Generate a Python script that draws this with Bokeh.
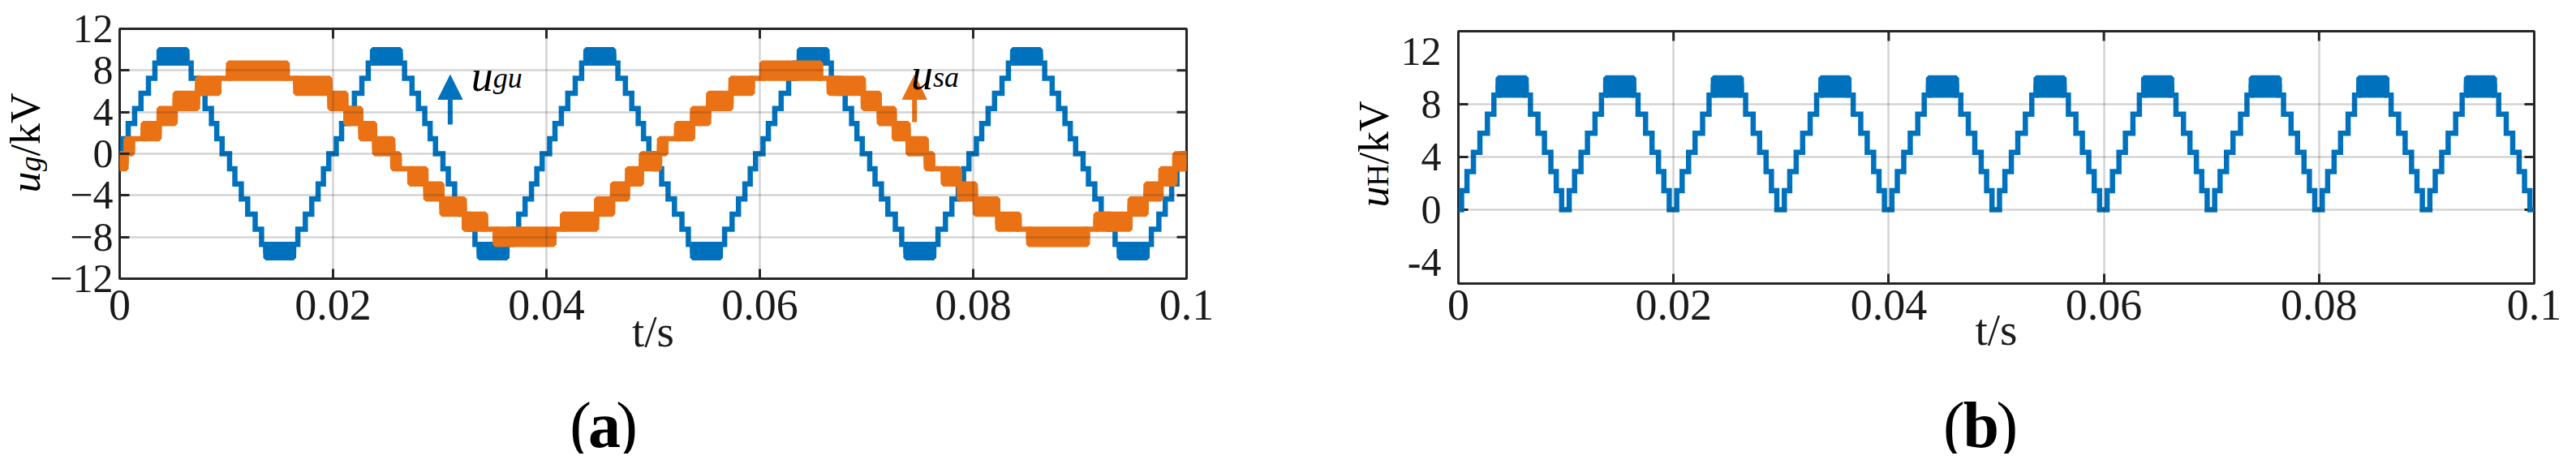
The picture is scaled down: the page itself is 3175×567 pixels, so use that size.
import math
from bokeh.plotting import figure
from bokeh.models import (FixedTicker, Label, Arrow, NormalHead,
                          Range1d, ColumnDataSource, Spacer)
from bokeh.layouts import row, column
from bokeh.embed import file_html
from bokeh.resources import INLINE

# ---------------- data ----------------
X_RANGE = (0.0, 0.1)
X_TICKS = [0, 0.02, 0.04, 0.06, 0.08, 0.1]
X_TICK_LABELS = ["0", "0.02", "0.04", "0.06", "0.08", "0.1"]
YA_RANGE = (-12.0, 12.0)
YA_TICKS = [-12, -8, -4, 0, 4, 8, 12]
YA_TICK_LABELS = ["−12", "−8", "−4", "0", "4", "8", "12"]
YB_RANGE = (-5.6, 13.54)
YB_TICKS = [0, 4, 8]
YB_LABEL_TICKS = [-4, 0, 4, 8, 12]
YB_TICK_LABELS = ["-4", "0", "4", "8", "12"]

# staircase levels of the multilevel voltage (kV)
LEVELS = [0.0, 1.45, 2.9, 4.35, 5.8, 7.25, 8.7]
GU_PEAK = 10.0            # top of the switching band at each crest
GU_HALF = 0.01            # half period of u_gu (s)
GU_RISE_T = [0.0003, 0.0008, 0.0014, 0.0020, 0.0027, 0.0033]
GU_BAND_T = [0.0037, 0.0063]
GU_FALL_T = [0.0067, 0.0074, 0.0080, 0.0086, 0.0091, 0.0096]
GU_HALF_STARTS = [0.00, 0.01, 0.02, 0.03, 0.04, 0.05, 0.06, 0.07, 0.08, 0.09]
GU_HALF_SIGNS = [1, -1, 1, -1, 1, -1, 1, -1, 1, -1]

# u_sa: one positive half-cycle, segments (start, low, high) in s / kV
SA_HALF = 0.025
SA_SEG_T = [0.0, 0.0006, 0.0012, 0.0022, 0.0037, 0.0052, 0.0073, 0.0093,
            0.0102, 0.0157, 0.0165, 0.0197, 0.0212, 0.0226, 0.0239]
SA_SEG_LO = [-1.45, 0.0, 1.45, 1.45, 2.9, 4.35, 5.8, 7.25,
             7.25, 7.25, 5.8, 4.35, 2.9, 1.45, 0.0]
SA_SEG_HI = [0.0, 1.45, 1.45, 2.9, 4.35, 5.8, 7.25, 7.25,
             8.7, 7.25, 7.25, 5.8, 4.35, 2.9, 1.45]
SA_HALF_STARTS = [0.0, 0.025, 0.05, 0.075]
SA_HALF_SIGNS = [1, -1, 1, -1]

BLUE = "#0072BD"
ORANGE = "#EA7114"
FRAME = "#262626"
TXT = "#1a1a1a"
FONT = "Liberation Serif"
X_TICK_FS = "54px"
Y_TICK_FS = "50px"
TICK_LEN = 12


def gu_half_segments():
    segs = []
    b = [0.0] + GU_RISE_T + [GU_BAND_T[0]]
    for k in range(len(LEVELS)):
        segs.append((b[k], b[k + 1], LEVELS[k], LEVELS[k]))
    segs.append((GU_BAND_T[0], GU_BAND_T[1], LEVELS[-1], GU_PEAK))
    f = [GU_BAND_T[1]] + GU_FALL_T + [GU_HALF]
    for k in range(len(LEVELS)):
        lv = LEVELS[len(LEVELS) - 1 - k]
        segs.append((f[k], f[k + 1], lv, lv))
    return segs


def sa_half_segments():
    ends = SA_SEG_T[1:] + [SA_HALF]
    return list(zip(SA_SEG_T, ends, SA_SEG_LO, SA_SEG_HI))


def build(segs, starts, signs):
    xs, ys = [], []
    ql, qr, qb, qt = [], [], [], []
    for s0, sg in zip(starts, signs):
        for (a, b, lo, hi) in segs:
            l, h = sg * lo, sg * hi
            m = 0.5 * (l + h)
            xs += [s0 + a, s0 + b]
            ys += [m, m]
            if lo != hi:
                ql.append(s0 + a); qr.append(s0 + b)
                qb.append(min(l, h)); qt.append(max(l, h))
    return (ColumnDataSource(dict(x=xs, y=ys)),
            ColumnDataSource(dict(left=ql, right=qr, bottom=qb, top=qt)))


def draw(p, segs, starts, signs, color):
    line_src, quad_src = build(segs, starts, signs)
    p.quad(left="left", right="right", bottom="bottom", top="top", source=quad_src,
           fill_color=color, line_color=color, line_width=6.5)
    p.line("x", "y", source=line_src, line_color=color, line_width=6.5,
           line_join="miter")


def style_axis(ax, size, ticks_in=TICK_LEN):
    ax.axis_line_color = None
    ax.major_tick_in = ticks_in
    ax.major_tick_out = 0
    ax.major_tick_line_color = FRAME if ticks_in else None
    ax.major_tick_line_width = 3
    ax.minor_tick_line_color = None
    ax.major_label_text_font = FONT
    ax.major_label_text_font_size = size
    ax.major_label_text_color = TXT


def edge_ticks(p, xs, ys, angle):
    # inward tick marks on frame edges without labels (half of each dash is
    # hidden by the frame clip, leaving TICK_LEN pixels inside)
    p.scatter(x=xs, y=ys, marker="dash", size=2 * TICK_LEN, angle=angle,
              line_color=FRAME, line_width=3)


def panel(left, frame_w, right, top, frame_h, bottom, yr, yticks):
    p = figure(width=left + frame_w + right, height=top + frame_h + bottom,
               output_backend="svg", toolbar_location=None,
               x_range=Range1d(*X_RANGE), y_range=Range1d(*yr),
               min_border_left=left, min_border_right=right,
               min_border_top=top, min_border_bottom=bottom,
               background_fill_color="white", border_fill_color="white")
    p.outline_line_color = FRAME
    p.outline_line_width = 3
    xt = FixedTicker(ticks=X_TICKS)
    yt = FixedTicker(ticks=yticks)
    p.xaxis.ticker = xt
    p.xaxis.major_label_overrides = {t: s for t, s in zip(X_TICKS, X_TICK_LABELS)}
    style_axis(p.xaxis[0], X_TICK_FS)
    p.xaxis.axis_label = "t/s"
    p.xaxis.axis_label_text_font = FONT
    p.xaxis.axis_label_text_font_style = "normal"
    p.xaxis.axis_label_text_font_size = "55px"
    p.xaxis.axis_label_text_color = TXT
    p.xgrid.ticker = xt
    p.ygrid.ticker = yt
    for g in (p.xgrid[0], p.ygrid[0]):
        g.grid_line_color = "#262626"
        g.grid_line_alpha = 0.2
        g.grid_line_width = 2.5
        g.level = "overlay"
    # top and right edge ticks
    edge_ticks(p, X_TICKS, [yr[1]] * len(X_TICKS), math.pi / 2)
    edge_ticks(p, [X_RANGE[1]] * len(yticks), yticks, 0.0)
    return p, yt


def text_fig(x0, x1, y0, y1):
    # a plain strip whose data units are page pixels (y measured upward from y1)
    f = figure(width=x1 - x0, height=y1 - y0, output_backend="svg", toolbar_location=None,
               x_range=Range1d(x0, x1), y_range=Range1d(0, y1 - y0),
               x_axis_location=None, y_axis_location=None,
               min_border=0, min_border_left=0, min_border_right=0,
               min_border_top=0, min_border_bottom=0,
               background_fill_color="white", border_fill_color="white")
    f.outline_line_color = None
    f.xgrid.visible = False
    f.ygrid.visible = False
    f._page_bottom = y1
    return f


def lab(p, x, y, text, size, style="normal", align="left", baseline="alphabetic",
        color="black"):
    p.add_layout(Label(x=x, y=y, text=text, text_font=FONT, text_font_size=size,
                       text_font_style=style, text_align=align, text_baseline=baseline,
                       text_color=color))


def ptext(f, x, page_y, text, size, style="normal"):
    lab(f, x, f._page_bottom - page_y, text, size, style)


def vpiece(width, height, text, px, style, baseline_x):
    """A slim figure whose only content is a vertical axis label (bottom-to-top),
    with its baseline at baseline_x pixels from the strip's left edge."""
    m = width - 1
    desc = 0.216 * px
    s = int(round(m - (baseline_x + desc)))
    f = figure(width=width, height=height, output_backend="svg", toolbar_location=None,
               x_range=Range1d(0, 1), y_range=Range1d(0, 1),
               x_axis_location=None, y_axis_location="left",
               min_border=0, min_border_left=m, min_border_right=0,
               min_border_top=0, min_border_bottom=0,
               background_fill_color="white", border_fill_color="white")
    f.outline_line_color = None
    f.xgrid.visible = False
    f.ygrid.visible = False
    ax = f.yaxis[0]
    ax.ticker = FixedTicker(ticks=[])
    ax.axis_line_color = None
    ax.major_tick_in = 0
    ax.major_tick_out = 0
    ax.minor_tick_in = 0
    ax.minor_tick_out = 0
    ax.major_tick_line_color = None
    ax.minor_tick_line_color = None
    ax.major_label_standoff = 0
    ax.axis_label = text
    ax.axis_label_standoff = s
    ax.axis_label_text_font = FONT
    ax.axis_label_text_font_size = f"{px}px"
    ax.axis_label_text_font_style = style
    ax.axis_label_text_color = "black"
    return f


# ---------------- panel (a): page x 66..1600, y 8..469 ----------------
pa, yta = panel(87, 1317, 130, 35, 308, 118, YA_RANGE, YA_TICKS)
pa.yaxis.ticker = yta
pa.yaxis.major_label_overrides = {t: s for t, s in zip(YA_TICKS, YA_TICK_LABELS)}
style_axis(pa.yaxis[0], Y_TICK_FS)
pa.yaxis.major_label_standoff = 8
pa.xaxis.major_label_standoff = 14
pa.xaxis.axis_label_standoff = -19

draw(pa, gu_half_segments(), GU_HALF_STARTS, GU_HALF_SIGNS, BLUE)
draw(pa, sa_half_segments(), SA_HALF_STARTS, SA_HALF_SIGNS, ORANGE)

pa.add_layout(Arrow(end=NormalHead(size=30, fill_color=BLUE, line_color=BLUE),
                    x_start=0.03098, y_start=2.8, x_end=0.03098, y_end=7.56,
                    line_color=BLUE, line_width=6))
pa.add_layout(Arrow(end=NormalHead(size=30, fill_color=ORANGE, line_color=ORANGE),
                    x_start=0.0745, y_start=3.04, x_end=0.0745, y_end=7.56,
                    line_color=ORANGE, line_width=6))
lab(pa, 0.03295, 7.48, "u", "54px", "italic")
lab(pa, 0.0350, 7.32, "gu", "36px", "italic")
lab(pa, 0.07418, 7.56, "u", "54px", "italic")
lab(pa, 0.07624, 7.40, "sa", "36px", "italic")

# y label of (a): strip page x 8..66, pieces stacked from page y 122 to 245
W_A = 58
la = column(Spacer(width=W_A, height=114),
            vpiece(W_A, 78, "/kV", 52, "normal", 46.5),
            vpiece(W_A, 19, "g", 38, "italic", 47.5),
            vpiece(W_A, 26, "u", 52, "italic", 46.5),
            Spacer(width=W_A, height=215))

# caption (a)
CAP_BASE = 531
ca = text_fig(66, 1600, 469, 567)
ptext(ca, 713, CAP_BASE, "(", "80px")
ptext(ca, 739.6, CAP_BASE, "a", "80px", "bold")
ptext(ca, 779.6, CAP_BASE, ")", "80px")

# ---------------- panel (b): page x 1731..3167, y 8..467 ----------------
pb, ytb = panel(72, 1328, 36, 38, 311, 110, YB_RANGE, YB_TICKS)
# left axis carries the labels; its tick marks sit only at YB_TICKS
pb.yaxis.ticker = FixedTicker(ticks=YB_LABEL_TICKS)
pb.yaxis.major_label_overrides = {t: s for t, s in zip(YB_LABEL_TICKS, YB_TICK_LABELS)}
style_axis(pb.yaxis[0], Y_TICK_FS, ticks_in=0)
pb.yaxis.major_label_standoff = 21
edge_ticks(pb, [X_RANGE[0]] * len(YB_TICKS), YB_TICKS, 0.0)
pb.xaxis.major_label_standoff = 8
pb.xaxis.axis_label_standoff = -21

draw(pb, gu_half_segments(), GU_HALF_STARTS, [1] * len(GU_HALF_STARTS), BLUE)

# y label of (b): strip page x 1600..1731, pieces from page y 132 to 263
W_B = 131
lb = column(Spacer(width=W_B, height=124),
            vpiece(W_B, 78, "/kV", 52, "normal", 118),
            vpiece(W_B, 27, "H", 38, "normal", 118),
            vpiece(W_B, 26, "u", 52, "italic", 118),
            Spacer(width=W_B, height=197))

cb = text_fig(1731, 3167, 467, 567)
ptext(cb, 2378, CAP_BASE, "(", "80px")
ptext(cb, 2404.6, CAP_BASE, "b", "80px", "bold")
ptext(cb, 2449, CAP_BASE, ")", "80px")

layout = row(la, column(pa, ca), lb, column(pb, cb))
open("out.html", "w").write(file_html(layout, INLINE))
